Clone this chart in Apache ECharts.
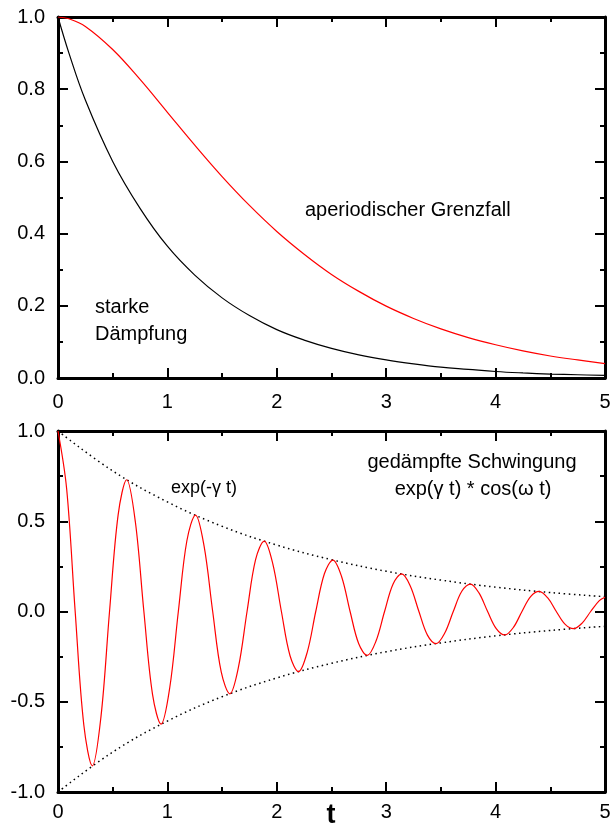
<!DOCTYPE html>
<html>
<head>
<meta charset="utf-8">
<script src="https://cdn.jsdelivr.net/npm/echarts@6/dist/echarts.min.js"></script>
<style>
html,body{margin:0;padding:0;background:#fff;}
#chart{width:610px;height:830px;}
</style>
</head>
<body>
<div id="chart"></div>
<script>
// ---- data ----
const tTop = [0, 0.1, 0.25, 0.5, 0.75, 1, 1.25, 1.5, 1.75, 2, 2.25, 2.5, 2.75, 3, 3.25, 3.5, 3.75, 4, 4.25, 4.5, 4.75, 5];
const strongDamping = [1, 0.90, 0.77, 0.60, 0.47, 0.365, 0.285, 0.222, 0.173, 0.134, 0.105, 0.082, 0.064, 0.050, 0.039, 0.030, 0.024, 0.018, 0.014, 0.011, 0.009, 0.007];
const aperiodic = [1, 0.995, 0.974, 0.910, 0.827, 0.736, 0.645, 0.558, 0.478, 0.406, 0.343, 0.287, 0.240, 0.199, 0.165, 0.136, 0.112, 0.092, 0.075, 0.061, 0.050, 0.040];

const tOsc = [0, 0.079, 0.157, 0.236, 0.314, 0.393, 0.471, 0.550, 0.628, 0.707, 0.785, 0.864, 0.942, 1.021, 1.100, 1.178,
  1.257, 1.335, 1.414, 1.492, 1.571, 1.649, 1.728, 1.806, 1.885, 1.963, 2.042, 2.121, 2.199, 2.278, 2.356, 2.435,
  2.513, 2.592, 2.670, 2.749, 2.827, 2.906, 2.985, 3.063, 3.142, 3.220, 3.299, 3.377, 3.456, 3.534, 3.613, 3.691,
  3.770, 3.848, 3.927, 4.006, 4.084, 4.163, 4.241, 4.320, 4.398, 4.477, 4.555, 4.634, 4.712, 4.791, 4.869, 4.948, 5.0];
const oscillation = [1, 0.680, 0, -0.629, -0.855, -0.581, 0, 0.537, 0.730, 0.497, 0, -0.459, -0.624, -0.424, 0, 0.392,
  0.534, 0.363, 0, -0.335, -0.456, -0.310, 0, 0.287, 0.390, 0.265, 0, -0.245, -0.333, -0.226, 0, 0.209,
  0.285, 0.194, 0, -0.179, -0.243, -0.165, 0, 0.153, 0.208, 0.141, 0, -0.131, -0.178, -0.121, 0, 0.112,
  0.152, 0.103, 0, -0.095, -0.130, -0.088, 0, 0.082, 0.111, 0.075, 0, -0.070, -0.095, -0.064, 0, 0.060, 0.079];

const tEnv = [0, 0.5, 1, 1.5, 2, 2.5, 3, 3.5, 4, 4.5, 5];
const envelopeUpper = [1, 0.779, 0.607, 0.472, 0.368, 0.287, 0.223, 0.174, 0.135, 0.105, 0.082];
const envelopeLower = [-1, -0.779, -0.607, -0.472, -0.368, -0.287, -0.223, -0.174, -0.135, -0.105, -0.082];

const xTicks = { min: 0, max: 5, interval: 1 };
const yTopTicks = { min: 0, max: 1, interval: 0.2 };
const yBotTicks = { min: -1, max: 1, interval: 0.5 };

const labelsText = {
  aperiodic: 'aperiodischer Grenzfall',
  strong: ['starke', 'Dämpfung'],
  env: 'exp(-γ t)',
  osc: ['gedämpfte Schwingung', 'exp(γ t) * cos(ω t)'],
  xName: 't'
};

// ---- chart ----
const FONT = 'Arial, "Liberation Sans", sans-serif';
const pair = (xs, ys) => xs.map((x, i) => [x, ys[i]]);
const axisLine = { show: true, onZero: false, lineStyle: { color: '#000', width: 3 } };

function xAxis(grid, pos, showLabels, margin) {
  return {
    type: 'value', gridIndex: grid, position: pos,
    min: xTicks.min, max: xTicks.max, interval: xTicks.interval,
    axisLine: axisLine,
    axisTick: { show: true, inside: true, length: 10, lineStyle: { color: '#000', width: 2 } },
    minorTick: { show: true, splitNumber: 2, length: 5, lineStyle: { color: '#000', width: 2 } },
    splitLine: { show: false },
    axisLabel: { show: showLabels, margin: margin, color: '#000', fontSize: 20, fontFamily: FONT, formatter: v => String(v) }
  };
}
function yAxis(grid, pos, showLabels, t) {
  return {
    type: 'value', gridIndex: grid, position: pos,
    min: t.min, max: t.max, interval: t.interval,
    axisLine: axisLine,
    axisTick: { show: true, inside: true, length: 10, lineStyle: { color: '#000', width: 2 } },
    minorTick: { show: true, splitNumber: 2, length: 5, lineStyle: { color: '#000', width: 2 } },
    splitLine: { show: false },
    axisLabel: { show: showLabels, margin: 13, color: '#000', fontSize: 20, fontFamily: FONT, formatter: v => v.toFixed(1) }
  };
}

const chart = echarts.init(document.getElementById('chart'), null, { renderer: 'canvas' });
chart.setOption({
  backgroundColor: '#fff',
  animation: false,
  grid: [
    { left: 58, top: 17, width: 547, height: 361, outerBoundsMode: 'none', containLabel: false },
    { left: 58, top: 431, width: 547, height: 361, outerBoundsMode: 'none', containLabel: false }
  ],
  xAxis: [
    xAxis(0, 'bottom', true, 14), xAxis(0, 'top', false, 14),
    xAxis(1, 'bottom', true, 10), xAxis(1, 'top', false, 10)
  ],
  yAxis: [
    yAxis(0, 'left', true, yTopTicks), yAxis(0, 'right', false, yTopTicks),
    yAxis(1, 'left', true, yBotTicks), yAxis(1, 'right', false, yBotTicks)
  ],
  series: [
    { type: 'line', xAxisIndex: 0, yAxisIndex: 0, data: pair(tTop, strongDamping), smooth: 0.4, showSymbol: false,
      lineStyle: { color: '#000', width: 1.2 } },
    { type: 'line', xAxisIndex: 0, yAxisIndex: 0, data: pair(tTop, aperiodic), smooth: 0.4, showSymbol: false,
      lineStyle: { color: '#ff0000', width: 1.2 } },
    { type: 'line', xAxisIndex: 2, yAxisIndex: 2, data: pair(tEnv, envelopeUpper), smooth: 0.4, showSymbol: false,
      lineStyle: { color: '#000', width: 1.5, type: [1.5, 3.5] } },
    { type: 'line', xAxisIndex: 2, yAxisIndex: 2, data: pair(tEnv, envelopeLower), smooth: 0.4, showSymbol: false,
      lineStyle: { color: '#000', width: 1.5, type: [1.5, 3.5] } },
    { type: 'line', xAxisIndex: 2, yAxisIndex: 2, data: pair(tOsc, oscillation), smooth: 0.35, showSymbol: false,
      lineStyle: { color: '#ff0000', width: 1.2 } }
  ],
  graphic: [
    { type: 'text', x: 305, y: 210, style: { text: labelsText.aperiodic, fill: '#000', font: '20px ' + FONT, align: 'left', verticalAlign: 'middle' } },
    { type: 'text', x: 95, y: 307, style: { text: labelsText.strong[0], fill: '#000', font: '20px ' + FONT, align: 'left', verticalAlign: 'middle' } },
    { type: 'text', x: 95, y: 334, style: { text: labelsText.strong[1], fill: '#000', font: '20px ' + FONT, align: 'left', verticalAlign: 'middle' } },
    { type: 'text', x: 171, y: 488, style: { text: labelsText.env, fill: '#000', font: '18px ' + FONT, align: 'left', verticalAlign: 'middle' } },
    { type: 'text', x: 472, y: 462, style: { text: labelsText.osc[0], fill: '#000', font: '20px ' + FONT, align: 'center', verticalAlign: 'middle' } },
    { type: 'text', x: 473, y: 489, style: { text: labelsText.osc[1], fill: '#000', font: '20px ' + FONT, align: 'center', verticalAlign: 'middle' } },
    { type: 'text', x: 331, y: 816, style: { text: labelsText.xName, fill: '#000', font: 'bold 27px ' + FONT, align: 'center', verticalAlign: 'middle' } }
  ]
});
</script>
</body>
</html>
